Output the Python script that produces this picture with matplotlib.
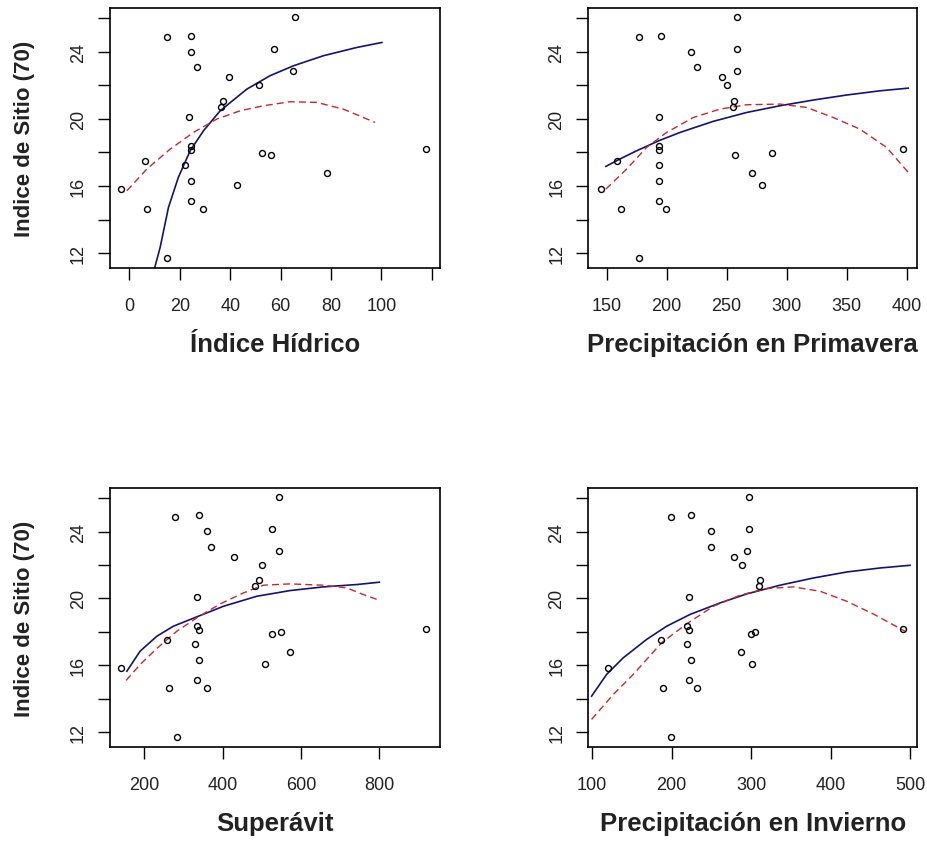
import matplotlib
matplotlib.use("Agg")
import matplotlib.pyplot as plt

plt.rcParams['font.family'] = ['Liberation Sans', 'DejaVu Sans']

# indice de sitio (shared y for all panels)
sitio = [15.82, 17.49, 14.63, 24.85, 11.69, 24.96, 24.01, 23.08, 20.10, 18.36,
         18.14, 17.27, 16.29, 15.13, 14.63, 22.48, 21.08, 20.72, 16.07, 21.99,
         24.15, 26.05, 22.85, 17.97, 17.85, 16.78, 18.20]

ind_hidrico = [-3.3, 6.2, 7.1, 15.1, 15.1, 24.6, 24.6, 26.9, 23.6, 24.5,
               24.5, 22.2, 24.5, 24.5, 29.4, 39.6, 37.1, 36.3, 42.7, 51.3,
               57.5, 65.6, 64.8, 52.8, 56.2, 78.3, 117.7]
prec_primavera = [145.3, 158.3, 161.9, 176.9, 176.9, 195.3, 220.3, 225.0, 193.6, 193.6,
                  193.6, 193.6, 193.6, 193.6, 199.2, 246.4, 256.4, 255.0, 279.8, 250.0,
                  258.3, 258.3, 258.3, 288.1, 257.0, 271.4, 397.2]
superavit = [141.3, 259.5, 263.8, 279.9, 285.0, 340.3, 359.9, 370.9, 335.2, 335.2,
             340.3, 330.1, 340.3, 335.2, 359.9, 430.4, 492.5, 483.2, 507.9, 501.8,
             527.3, 543.6, 543.6, 548.7, 527.3, 573.2, 919.4]
prec_invierno = [119.4, 186.1, 189.0, 198.7, 198.7, 224.3, 249.1, 249.1, 221.8, 219.3,
                 221.8, 219.3, 224.3, 221.8, 231.5, 278.8, 311.6, 310.0, 301.5, 288.9,
                 297.0, 297.0, 294.4, 304.9, 299.5, 286.9, 491.7]

# fitted curves (solid = blue, dashed = red)
c1_blue_x = [9.9, 12.2, 15.5, 19.4, 24.1, 29.4, 36.0, 46.6, 55.8, 65.1, 77.0, 90.2, 100.2]
c1_blue_y = [11.06, 12.35, 14.73, 16.51, 18.10, 19.29, 20.48, 21.77, 22.57, 23.16, 23.76, 24.25, 24.55]
c1_red_x = [-1.0, 6.9, 16.2, 25.4, 34.7, 43.9, 53.2, 63.8, 74.4, 84.9, 97.5]
c1_red_y = [15.72, 17.01, 18.20, 19.19, 19.99, 20.48, 20.78, 21.02, 20.98, 20.58, 19.79]

c2_blue_x = [149.4, 161.1, 175.0, 193.6, 211.1, 238.8, 266.7, 294.4, 322.2, 350.0, 377.8, 401.4]
c2_blue_y = [17.17, 17.61, 18.10, 18.70, 19.19, 19.85, 20.38, 20.78, 21.12, 21.42, 21.67, 21.83]
c2_red_x = [149.4, 166.7, 183.3, 200.0, 222.2, 244.4, 266.7, 294.4, 316.7, 338.9, 361.1, 383.3, 401.4]
c2_red_y = [15.82, 17.01, 18.30, 19.19, 20.08, 20.58, 20.84, 20.88, 20.68, 20.08, 19.39, 18.30, 16.81]

c3_blue_x = [155.9, 189.8, 232.4, 274.7, 334.4, 402.3, 487.5, 572.4, 657.4, 742.6, 800.3]
c3_blue_y = [15.65, 16.85, 17.74, 18.34, 18.90, 19.53, 20.13, 20.47, 20.69, 20.83, 20.97]
c3_red_x = [154.1, 189.8, 232.4, 283.4, 334.4, 393.9, 453.3, 504.3, 572.4, 657.4, 717.1, 759.4, 800.3]
c3_red_y = [15.10, 16.05, 17.01, 18.04, 18.84, 19.67, 20.33, 20.79, 20.87, 20.79, 20.63, 20.23, 19.89]

c4_blue_x = [99.2, 118.1, 139.0, 168.5, 193.7, 223.0, 260.8, 294.5, 336.4, 378.3, 420.4, 462.3, 500.1]
c4_blue_y = [14.16, 15.46, 16.45, 17.55, 18.34, 19.04, 19.73, 20.27, 20.79, 21.22, 21.58, 21.82, 21.98]
c4_red_x = [99.2, 126.5, 151.6, 187.4, 218.9, 252.4, 286.0, 319.6, 353.1, 386.8, 420.4, 453.9, 493.8]
c4_red_y = [12.77, 14.26, 15.46, 17.35, 18.48, 19.53, 20.19, 20.59, 20.69, 20.43, 19.83, 19.07, 18.04]

y_ticks = [12, 14, 16, 18, 20, 22, 24, 26]
y_labels = ['12', '', '16', '', '20', '', '24', '']

panels = [
    dict(x=ind_hidrico, bx=c1_blue_x, by=c1_blue_y, rx=c1_red_x, ry=c1_red_y,
         xlim=(-7.7, 123.3), ticks=[0, 20, 40, 60, 80, 100, 120],
         labels=['0', '20', '40', '60', '80', '100', ''],
         title='Índice Hídrico', pos=[0.1187, 0.6813, 0.356, 0.308], ylab=True),
    dict(x=prec_primavera, bx=c2_blue_x, by=c2_blue_y, rx=c2_red_x, ry=c2_red_y,
         xlim=(134.7, 408.9), ticks=[150, 200, 250, 300, 350, 400],
         labels=['150', '200', '250', '300', '350', '400'],
         title='Precipitación en Primavera', pos=[0.6346, 0.6813, 0.3549, 0.308], ylab=False),
    dict(x=superavit, bx=c3_blue_x, by=c3_blue_y, rx=c3_red_x, ry=c3_red_y,
         xlim=(113, 955), ticks=[200, 400, 600, 800],
         labels=['200', '400', '600', '800'],
         title='Superávit', pos=[0.1187, 0.1144, 0.356, 0.3069], ylab=True),
    dict(x=prec_invierno, bx=c4_blue_x, by=c4_blue_y, rx=c4_red_x, ry=c4_red_y,
         xlim=(95, 509.2), ticks=[100, 200, 300, 400, 500],
         labels=['100', '200', '300', '400', '500'],
         title='Precipitación en Invierno', pos=[0.6346, 0.1144, 0.3549, 0.3069], ylab=False),
]

fig = plt.figure(figsize=(9.27, 8.45), dpi=100)

for p in panels:
    ax = fig.add_axes(p['pos'])
    ax.plot(p['x'], sitio, 'o', mfc='none', mec='black', ms=4.3, mew=1.0, zorder=3)
    ax.plot(p['bx'], p['by'], '-', color='#14146e', lw=1.2, zorder=2)
    ax.plot(p['rx'], p['ry'], '--', color='#c42a2a', lw=1.0, dashes=(5, 3), zorder=2)
    ax.set_xlim(*p['xlim'])
    ax.set_ylim(11.1, 26.6)
    ax.set_xticks(p['ticks'])
    ax.set_xticklabels(p['labels'], fontsize=13, color='#222222')
    ax.set_yticks(y_ticks)
    ax.set_yticklabels(y_labels, fontsize=13, rotation=90, va='center', color='#222222')
    ax.tick_params(axis='x', length=8.5, width=1.0, pad=12, color='black')
    ax.tick_params(axis='y', length=8.5, width=1.0, pad=8, color='black')
    for s in ax.spines.values():
        s.set_linewidth(1.2)
    ax.set_xlabel(p['title'], fontsize=18.5, fontweight='bold', color='#222222')
    ax.xaxis.set_label_coords(0.5, -0.245)
    if p['ylab']:
        ax.set_ylabel('Indice de Sitio (70)', fontsize=16, fontweight='bold', color='#222222')
        ax.yaxis.set_label_coords(-0.227, 0.5)

fig.savefig('out.png', dpi=100)
